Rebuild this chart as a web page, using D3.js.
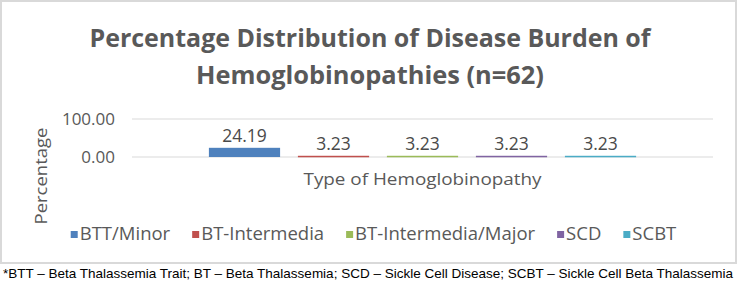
<!DOCTYPE html>
<html>
<head>
<meta charset="utf-8">
<script src="https://cdn.jsdelivr.net/npm/d3@7"></script>
<style>
  body { margin: 0; background: #fff; }
  svg { display: block; }
  text { font-family: "Open Sans", "Noto Sans", sans-serif; }
</style>
</head>
<body>
<div id="chart"></div>
<script>
// data
var titleLines = ["Percentage Distribution of Disease Burden of", "Hemoglobinopathies (n=62)"];
var category = ["Type of Hemoglobinopathy"];
var series = ["BTT/Minor", "BT-Intermedia", "BT-Intermedia/Major", "SCD", "SCBT"];
var values = [24.19, 3.23, 3.23, 3.23, 3.23];
var colors = ["#4f81bd", "#c0504d", "#9bbb59", "#8064a2", "#4bacc6"];
var yTicks = [0, 100];
var yTitle = "Percentage";
var footnote = "*BTT \u2013 Beta Thalassemia Trait; BT \u2013 Beta Thalassemia; SCD \u2013 Sickle Cell Disease; SCBT \u2013 Sickle Cell Beta Thalassemia";

var W = 739, H = 282;
var mm = [119, 26, 125, 132]; // plot area: top right bottom left
var pw = W - mm[1] - mm[3], ph = H - mm[0] - mm[2];

var svg = d3.select("#chart").append("svg")
    .attr("width", W)
    .attr("height", H);

// chart frame
svg.append("rect")
    .attr("x", 1).attr("y", 1)
    .attr("width", 735).attr("height", 262)
    .attr("fill", "#fff")
    .attr("stroke", "#d9d9d9")
    .attr("stroke-width", 2);

// title
svg.selectAll(".title").data(titleLines).enter().append("text")
    .attr("class", "title")
    .attr("x", 370)
    .attr("y", function(d, i) { return 47 + i * 37; })
    .attr("text-anchor", "middle")
    .attr("fill", "#595959")
    .style("font-size", "25px")
    .style("font-weight", 700)
    .attr("textLength", function(d, i) { return i == 0 ? 561 : 348; })
    .attr("lengthAdjust", "spacingAndGlyphs")
    .text(function(d) { return d; });

var g = svg.append("g")
    .attr("transform", "translate(" + mm[3] + "," + mm[0] + ")");

//scales
var y = d3.scaleLinear().domain([0, 100]).range([ph, 0]);
var x0 = d3.scaleBand().domain(category).range([0, pw]).paddingOuter(0.18).paddingInner(0);
var x1 = d3.scaleBand().domain(series).range([0, x0.bandwidth()]).paddingInner(0.2).paddingOuter(0);

// gridlines
g.selectAll(".grid").data(yTicks).enter().append("line")
    .attr("x1", 0).attr("x2", pw)
    .attr("y1", function(d) { return y(d); })
    .attr("y2", function(d) { return y(d); })
    .attr("stroke", "#d9d9d9")
    .attr("stroke-width", 1.2);

// y tick labels
g.selectAll(".ytick").data(yTicks).enter().append("text")
    .attr("x", -17)
    .attr("y", function(d) { return y(d); })
    .attr("dy", "0.35em")
    .attr("text-anchor", "end")
    .attr("fill", "#595959")
    .style("font-size", "17px")
    .text(function(d) { return d3.format(".2f")(d); });

// bars
var grp = g.selectAll(".grp").data(category).enter().append("g")
    .attr("transform", function(d) { return "translate(" + x0(d) + ",0)"; });

grp.selectAll("rect").data(series).enter().append("rect")
    .attr("x", function(d) { return x1(d); })
    .attr("y", function(d, i) { return y(values[i]); })
    .attr("width", x1.bandwidth())
    .attr("height", function(d, i) { return Math.max(y(0) - y(values[i]), 1.5); })
    .attr("fill", function(d, i) { return colors[i]; });

grp.selectAll(".lbl").data(series).enter().append("text")
    .attr("x", function(d) { return x1(d) + x1.bandwidth() / 2; })
    .attr("y", function(d, i) { return y(values[i]) - 6; })
    .attr("text-anchor", "middle")
    .attr("fill", "#4a4a4a")
    .style("font-size", "17.5px")
    .text(function(d, i) { return values[i].toFixed(2); });

// x axis title
g.append("text")
    .attr("x", pw / 2)
    .attr("y", ph + 28)
    .attr("text-anchor", "middle")
    .attr("fill", "#595959")
    .style("font-size", "17px")
    .attr("textLength", 238)
    .attr("lengthAdjust", "spacingAndGlyphs")
    .text(category[0]);

// y axis title
svg.append("text")
    .attr("transform", "translate(47,176) rotate(-90)")
    .attr("text-anchor", "middle")
    .attr("fill", "#595959")
    .style("font-size", "17px")
    .attr("textLength", 97)
    .attr("lengthAdjust", "spacingAndGlyphs")
    .text(yTitle);

// legend
var legend = svg.append("g");
var items = legend.selectAll(".leg").data(series).enter().append("g");
items.append("rect")
    .attr("width", 7).attr("height", 7)
    .attr("y", -9)
    .attr("fill", function(d, i) { return colors[i]; });
items.append("text")
    .attr("x", 9)
    .attr("fill", "#595959")
    .style("font-size", "18.5px")
    .text(function(d) { return d; });
var lx = 0;
items.each(function() {
    var t = d3.select(this).select("text").node().getComputedTextLength();
    d3.select(this).attr("transform", "translate(" + lx + ",0)");
    lx += 9 + t + 22;
});
lx -= 22;
legend.attr("transform", "translate(" + (373.5 - lx / 2) + ",240)");

// footnote under the frame
svg.append("text")
    .attr("x", 3)
    .attr("y", 278)
    .attr("fill", "#000")
    .style("font-family", "'Liberation Sans Narrow', 'Liberation Sans', Arial, sans-serif")
    .style("font-size", "13.5px")
    .attr("textLength", 730)
    .attr("lengthAdjust", "spacingAndGlyphs")
    .text(footnote);
</script>
</body>
</html>
